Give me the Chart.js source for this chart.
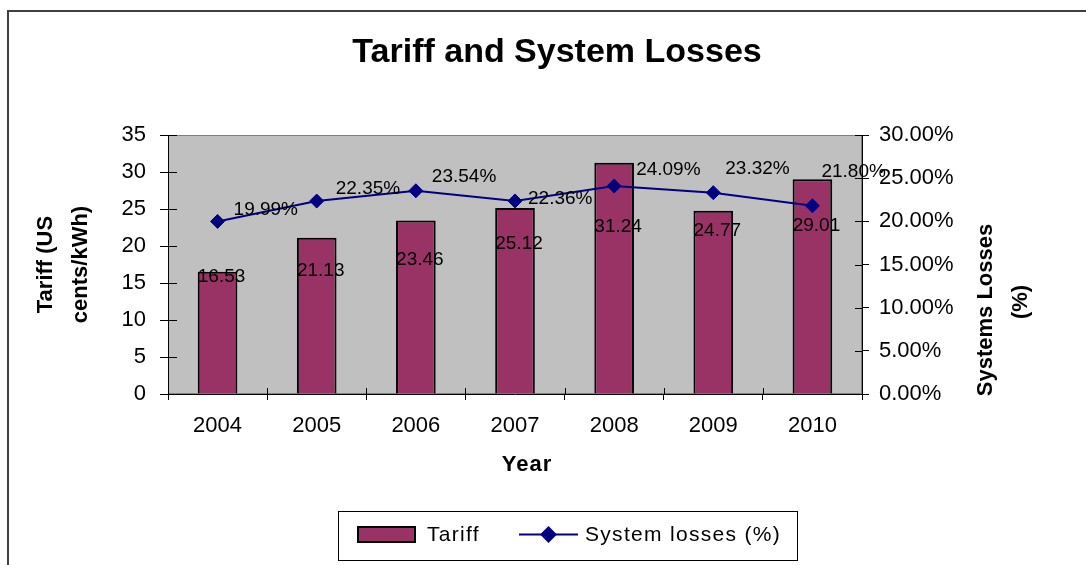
<!doctype html>
<html>
<head>
<title>Tariff and System Losses</title>
<script src="https://cdn.jsdelivr.net/npm/chart.js@4.4.0/dist/chart.umd.min.js"></script>
<style>
    body { margin: 0; background: #fff; }
    #wrap { position: absolute; left: 0; top: 0; width: 1086px; height: 565px; overflow: hidden; }
    #frame { position: absolute; left: 7px; top: 10px; width: 1200px; height: 700px; border: 2px solid #404040; }
    canvas { position: absolute; left: 0; top: 0; }
</style>
</head>
<body>
<div id="wrap">
    <div id="frame"></div>
    <canvas id="chart" width="1086" height="565"></canvas>
</div>
<script>
var years = ['2004', '2005', '2006', '2007', '2008', '2009', '2010'];
var tariff = [16.53, 21.13, 23.46, 25.12, 31.24, 24.77, 29.01];
var losses = [19.99, 22.35, 23.54, 22.36, 24.09, 23.32, 21.80];

var FONT = '"Liberation Sans", Arial, sans-serif';
var BAR = '#993366';
var LINE = '#000080';

Chart.defaults.font.family = FONT;
Chart.defaults.color = '#000';

// label nudges
var barLabelDy = [5, 33, 39, 36, 64, 20, 46];
var lossLabelNudge = [[16, -12], [19, -12], [16, -14], [13, -2], [22, -16], [12, -24], [9, -34]];

var plotBackground = {
    id: 'plotBackground',
    beforeDraw: function (chart) {
        var a = chart.chartArea, ctx = chart.ctx;
        ctx.save();
        ctx.fillStyle = '#c0c0c0';
        ctx.fillRect(a.left, a.top, a.right - a.left, a.bottom - a.top);
        ctx.strokeStyle = '#808080';
        ctx.lineWidth = 1;
        ctx.strokeRect(a.left + 0.5, a.top + 0.5, a.right - a.left - 1, a.bottom - a.top - 1);
        ctx.restore();
    }
};

var innerTicks = {
    id: 'innerTicks',
    beforeDatasetsDraw: function (chart) {
        var ctx = chart.ctx, s = chart.scales;
        ctx.save();
        ctx.strokeStyle = '#000';
        ctx.lineWidth = 1;
        ctx.beginPath();
        s.y.ticks.forEach(function (t, i) {
            var py = Math.round(s.y.getPixelForTick(i)) + 0.5;
            ctx.moveTo(s.y.right, py);
            ctx.lineTo(s.y.right + 9, py);
        });
        s.y1.ticks.forEach(function (t, i) {
            var py = Math.round(s.y1.getPixelForTick(i)) + 0.5;
            ctx.moveTo(s.y1.left, py);
            ctx.lineTo(s.y1.left - 7, py);
        });
        var n = years.length;
        for (var i = 0; i <= n; i++) {
            var px = Math.round(s.x.left + i * s.x.width / n) + 0.5;
            ctx.moveTo(px, s.x.top);
            ctx.lineTo(px, s.x.top - 6);
        }
        ctx.stroke();
        ctx.restore();
    }
};

var valueLabels = {
    id: 'valueLabels',
    afterDatasetsDraw: function (chart) {
        var ctx = chart.ctx;
        ctx.save();
        ctx.fillStyle = '#000';
        ctx.font = '19px ' + FONT;
        ctx.textBaseline = 'middle';
        ctx.textAlign = 'center';
        chart.getDatasetMeta(0).data.forEach(function (bar, i) {
            ctx.fillText(tariff[i].toFixed(2), bar.x + 4, bar.y + barLabelDy[i]);
        });
        ctx.textAlign = 'left';
        chart.getDatasetMeta(1).data.forEach(function (pt, i) {
            ctx.fillText(losses[i].toFixed(2) + '%', pt.x + lossLabelNudge[i][0], pt.y + lossLabelNudge[i][1]);
        });
        ctx.restore();
    }
};

var extras = {
    id: 'extras',
    afterDraw: function (chart) {
        var ctx = chart.ctx;
        ctx.save();
        ctx.fillStyle = '#000';
        ctx.textAlign = 'center';
        ctx.textBaseline = 'middle';
        ctx.font = 'bold 22px ' + FONT;
        ctx.letterSpacing = '1px';
        ctx.fillText('Year', 527, 465);
        ctx.letterSpacing = '0px';

        // right axis title, read bottom to top
        ctx.save();
        ctx.translate(986, 310);
        ctx.rotate(-Math.PI / 2);
        ctx.fillText('Systems Losses', 0, 0);
        ctx.restore();
        ctx.save();
        ctx.translate(1021, 302);
        ctx.rotate(-Math.PI / 2);
        ctx.fillText('(%)', 0, 0);
        ctx.restore();

        // legend box
        ctx.strokeStyle = '#000';
        ctx.lineWidth = 1;
        ctx.strokeRect(338.5, 511.5, 459, 49);
        ctx.fillStyle = BAR;
        ctx.fillRect(358, 527, 57, 15);
        ctx.lineWidth = 2;
        ctx.strokeRect(358, 527, 57, 15);
        ctx.strokeStyle = LINE;
        ctx.beginPath();
        ctx.moveTo(519, 534.5);
        ctx.lineTo(578, 534.5);
        ctx.stroke();
        Chart.helpers.drawPoint(ctx, { pointStyle: 'rectRot', radius: 7, borderWidth: 1 }, 548.5, 534.5);
        ctx.fillStyle = LINE;
        ctx.fill();
        ctx.fillStyle = '#000';
        ctx.font = '21px ' + FONT;
        ctx.letterSpacing = '1.3px';
        ctx.textAlign = 'left';
        ctx.fillText('Tariff', 427, 535);
        ctx.fillText('System losses (%)', 585, 535);
        ctx.restore();
    }
};

new Chart(document.getElementById('chart').getContext('2d'), {
    data: {
        labels: years,
        datasets: [{
            type: 'bar',
            label: 'Tariff',
            data: tariff,
            backgroundColor: BAR,
            borderColor: '#000',
            borderWidth: 2,
            barPercentage: 0.4,
            categoryPercentage: 1,
            yAxisID: 'y',
            order: 1
        }, {
            type: 'line',
            label: 'System losses (%)',
            data: losses,
            borderColor: LINE,
            backgroundColor: LINE,
            borderWidth: 2,
            pointStyle: 'rectRot',
            pointRadius: 7,
            pointBorderWidth: 1,
            tension: 0,
            yAxisID: 'y1',
            order: 0
        }]
    },
    options: {
        responsive: false,
        animation: false,
        devicePixelRatio: 1,
        layout: { padding: { left: 28, right: 0, top: 0, bottom: 0 } },
        plugins: {
            legend: { display: false },
            tooltip: { enabled: false },
            title: {
                display: true,
                text: 'Tariff and System Losses',
                font: { size: 34, weight: 'bold' },
                padding: { top: 32.6, bottom: 61.6 }
            }
        },
        scales: {
            x: {
                grid: { drawOnChartArea: false, tickLength: 6, tickColor: '#000' },
                border: { color: '#000' },
                ticks: { font: { size: 22 }, padding: 13 },
                afterFit: function (scale) { scale.height = 171; }
            },
            y: {
                position: 'left',
                min: 0, max: 35,
                grid: { drawOnChartArea: false, tickLength: 8, tickColor: '#000' },
                border: { color: '#000' },
                ticks: { stepSize: 5, font: { size: 22 }, padding: 14 },
                title: {
                    display: true,
                    text: ['Tariff (US', 'cents/kWh)'],
                    font: { size: 22, weight: 'bold', lineHeight: '35px' },
                    padding: { top: 0, bottom: 0 }
                },
                afterFit: function (scale) { scale.width = 140; }
            },
            y1: {
                position: 'right',
                min: 0, max: 30,
                grid: { drawOnChartArea: false, tickLength: 7, tickColor: '#000' },
                border: { color: '#000' },
                ticks: {
                    stepSize: 5, font: { size: 22 }, padding: 10,
                    callback: function (v) { return v.toFixed(2) + '%'; }
                },
                afterFit: function (scale) { scale.width = 224; }
            }
        }
    },
    plugins: [plotBackground, innerTicks, valueLabels, extras]
});
</script>
</body>
</html>
